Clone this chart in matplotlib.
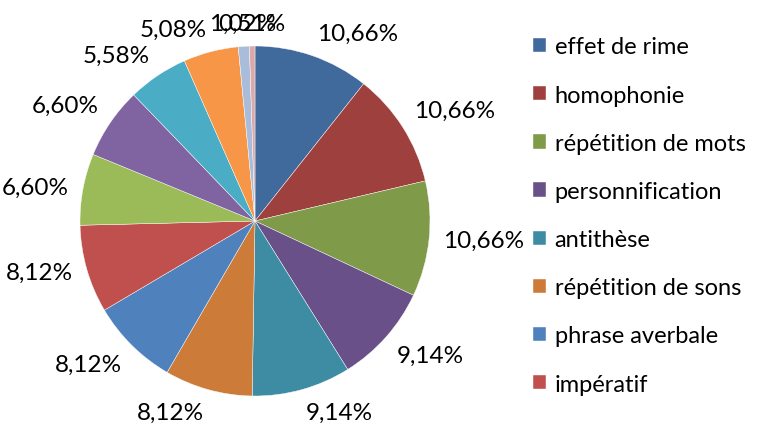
import matplotlib.pyplot as plt
import numpy as np

plt.rcParams['font.family'] = ['Lato', 'DejaVu Sans']

# Data
categories = ['effet de rime', 'homophonie', 'répétition de mots', 'personnification',
              'antithèse', 'répétition de sons', 'phrase averbale', 'impératif',
              'cat9', 'cat10', 'cat11', 'cat12', 'cat13', 'cat14']
values = [10.66, 10.66, 10.66, 9.14, 9.14, 8.12, 8.12, 8.12, 6.60, 6.60, 5.58, 5.08, 1.02, 0.51]
labels = ['10,66%', '10,66%', '10,66%', '9,14%', '9,14%', '8,12%', '8,12%', '8,12%',
          '6,60%', '6,60%', '5,58%', '5,08%', '1,02%', '0,51%']
colors = ['#416A9C', '#9E413E', '#7F9A48', '#6A5088', '#3D8CA3', '#CC7B38', '#4F81BD',
          '#C0504D', '#9BBB59', '#8064A2', '#4BACC6', '#F79646', '#A9BCDA', '#DBA9A8']
n_legend = 8

fig = plt.figure(figsize=(7.6, 4.35), dpi=100)
W, H = 760, 435
cx, cy, r = 255, 222, 175
lim = 1.3
size = 2 * lim * r
ax = fig.add_axes([(cx - size / 2) / W, (H - cy - size / 2) / H, size / W, size / H])

wedges, _ = ax.pie(values, colors=colors, startangle=90, counterclock=False,
                   wedgeprops=dict(edgecolor='white', linewidth=0.3))
ax.set_xlim(-lim, lim)
ax.set_ylim(-lim, lim)
ax.set_aspect('equal')
ax.axis('off')

# Outside-end labels
for w, lab in zip(wedges, labels):
    ang = np.deg2rad((w.theta1 + w.theta2) / 2)
    x, y = np.cos(ang), np.sin(ang)
    ha = 'left' if x > 0.1 else ('right' if x < -0.1 else 'center')
    va = 'bottom' if y > 0.4 else ('top' if y < -0.4 else 'center')
    ax.text(1.08 * x, 1.07 * y, lab, ha=ha, va=va, fontsize=17.5, color='#000000',
            clip_on=False)

fig.legend(wedges[:n_legend], categories[:n_legend], loc='upper left',
           bbox_to_anchor=(524 / W, 1 - 28 / H), frameon=False, fontsize=17,
           handlelength=0.55, handleheight=0.55, handletextpad=0.35,
           labelspacing=1.15, borderaxespad=0)

fig.savefig('out.png', dpi=100)
